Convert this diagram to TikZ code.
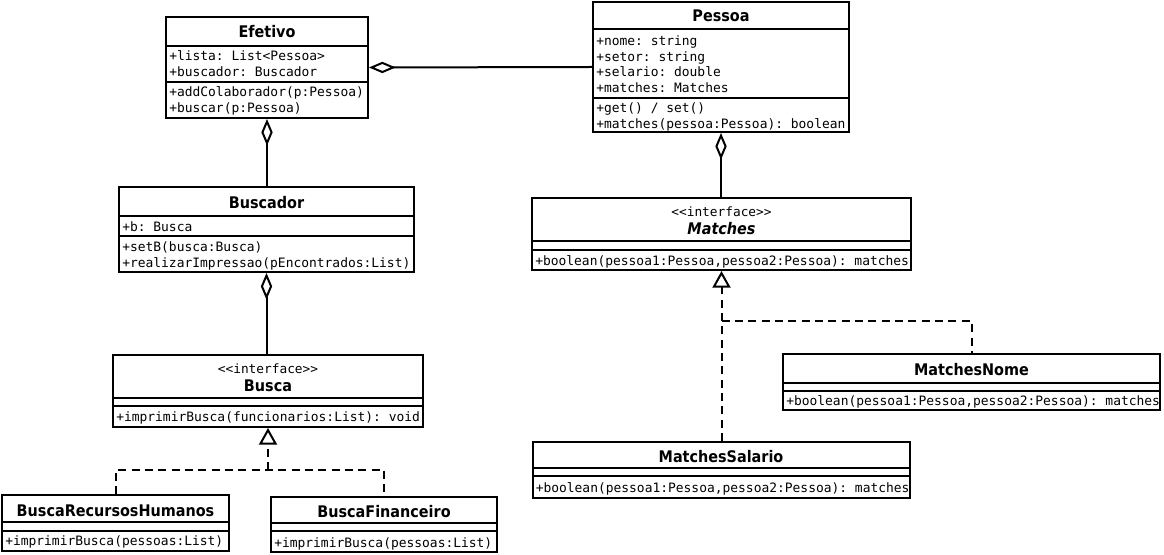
\documentclass[tikz,border=0pt]{standalone}
\usepackage{fontspec}
\setmonofont{DejaVu Sans Mono}
\newfontfamily\titlefont{DejaVu Sans Condensed}
\usetikzlibrary{arrows.meta}

\tikzset{
  classbox/.style={draw, line width=1.5pt, inner sep=0pt},
  classname/.style={inner sep=0pt, font=\titlefont\bfseries\fontsize{12}{14}\selectfont, text height=8.7pt, text depth=0pt},
  stereotype/.style={inner sep=0pt, font=\ttfamily\fontsize{9.6}{11}\selectfont, text height=6.5pt, text depth=0pt},
  member/.style={anchor=west, inner sep=0pt, font=\ttfamily\fontsize{9.7}{11.8}\selectfont, text height=7pt, text depth=1pt},
  aggregation/.style={line width=1.5pt, {Diamond[open,length=20pt,width=8.5pt]}-},
  realization/.style={line width=1.5pt, dash pattern=on 6pt off 4pt, -{Triangle[open,length=12.5pt,width=13.5pt]}},
  dashline/.style={line width=1.5pt, dash pattern=on 6pt off 4pt}
}

\begin{document}
\begin{tikzpicture}[x=0.75pt,y=-0.75pt]

\useasboundingbox (0,0) rectangle (1164,555);

% Efetivo
\node[classbox, minimum width=151.5pt, minimum height=75.75pt] (efetivo) at (267,67.5) {};
\draw[line width=1.5pt] (166,46)--(368,46);
\draw[line width=1.5pt] (166,82)--(368,82);
\node[classname] (efetivo-t) at (267,31.5) {Efetivo};
\node[member] (efetivo-a1) at (169,56.5) {+lista: List<Pessoa>};
\node[member] (efetivo-a2) at (169,73) {+buscador: Buscador};
\node[member] (efetivo-m1) at (169,93) {+addColaborador(p:Pessoa)};
\node[member] (efetivo-m2) at (169,109) {+buscar(p:Pessoa)};

% Pessoa
\node[classbox, minimum width=192pt, minimum height=97.5pt] (pessoa) at (721,67) {};
\draw[line width=1.5pt] (593,29.5)--(849,29.5);
\draw[line width=1.5pt] (593,98)--(849,98);
\node[classname] (pessoa-t) at (721,16) {Pessoa};
\node[member] (pessoa-a1) at (596,42) {+nome: string};
\node[member] (pessoa-a2) at (596,57.5) {+setor: string};
\node[member] (pessoa-a3) at (596,73) {+selario: double};
\node[member] (pessoa-a4) at (596,89) {+matches: Matches};
\node[member] (pessoa-m1) at (596,109) {+get() / set()};
\node[member] (pessoa-m2) at (596,125) {+matches(pessoa:Pessoa): boolean};

% Buscador
\node[classbox, minimum width=221.25pt, minimum height=63.75pt] (buscador) at (266.5,229.5) {};
\draw[line width=1.5pt] (119,216)--(414,216);
\draw[line width=1.5pt] (119,236)--(414,236);
\node[classname] (buscador-t) at (266.5,203) {Buscador};
\node[member] (buscador-a1) at (122,227.5) {+b: Busca};
\node[member] (buscador-m1) at (122,248) {+setB(busca:Busca)};
\node[member] (buscador-m2) at (122,263.5) {+realizarImpressao(pEncontrados:List)};

% Busca
\node[classbox, minimum width=232.5pt, minimum height=54pt] (busca) at (268,391) {};
\draw[line width=1.5pt] (113,398.5)--(423,398.5);
\draw[line width=1.5pt] (113,406.5)--(423,406.5);
\node[stereotype] (busca-s) at (268,369) {<<interface>>};
\node[classname] (busca-t) at (268,386) {Busca};
\node[member] (busca-m1) at (116,418) {+imprimirBusca(funcionarios:List): void};

% Matches
\node[classbox, minimum width=284.25pt, minimum height=54pt] (matches) at (721.5,234) {};
\draw[line width=1.5pt] (532,241.5)--(911,241.5);
\draw[line width=1.5pt] (532,250)--(911,250);
\node[stereotype] (matches-s) at (721.5,212.5) {<<interface>>};
\node[classname, font=\titlefont\bfseries\itshape\fontsize{12}{14}\selectfont] (matches-t) at (721.5,229) {Matches};
\node[member] (matches-m1) at (535,261.5) {+boolean(pessoa1:Pessoa,pessoa2:Pessoa): matches};

% BuscaRecursosHumanos
\node[classbox, minimum width=170.25pt, minimum height=42pt] (buscarh) at (115.5,523) {};
\draw[line width=1.5pt] (2,522.5)--(229,522.5);
\draw[line width=1.5pt] (2,531.5)--(229,531.5);
\node[classname] (buscarh-t) at (115.5,510.5) {BuscaRecursosHumanos};
\node[member] (buscarh-m1) at (5,542) {+imprimirBusca(pessoas:List)};

% BuscaFinanceiro
\node[classbox, minimum width=169.5pt, minimum height=41.25pt] (buscafin) at (384,524.5) {};
\draw[line width=1.5pt] (271,523.5)--(497,523.5);
\draw[line width=1.5pt] (271,531)--(497,531);
\node[classname] (buscafin-t) at (384,512) {BuscaFinanceiro};
\node[member] (buscafin-m1) at (274,544) {+imprimirBusca(pessoas:List)};

% MatchesNome
\node[classbox, minimum width=282.75pt, minimum height=42pt] (matchnome) at (971.5,382) {};
\draw[line width=1.5pt] (783,383.5)--(1160,383.5);
\draw[line width=1.5pt] (783,391.5)--(1160,391.5);
\node[classname] (matchnome-t) at (971.5,370) {MatchesNome};
\node[member] (matchnome-m1) at (786,402) {+boolean(pessoa1:Pessoa,pessoa2:Pessoa): matches};

% MatchesSalario
\node[classbox, minimum width=282.75pt, minimum height=42pt] (matchsal) at (721,470) {};
\draw[line width=1.5pt] (532.5,468.5)--(909.5,468.5);
\draw[line width=1.5pt] (532.5,476.5)--(909.5,476.5);
\node[classname] (matchsal-t) at (721,456.5) {MatchesSalario};
\node[member] (matchsal-m1) at (535.5,489) {+boolean(pessoa1:Pessoa,pessoa2:Pessoa): matches};

% connectors
\draw[aggregation] (efetivo.east)--(pessoa.west);
\draw[aggregation] (efetivo.south)--(efetivo.south |- buscador.north);
\draw[aggregation] (buscador.south)--(buscador.south |- busca.north);
\draw[aggregation] (pessoa.south)--(pessoa.south |- matches.north);

\path (busca.south) ++(0,42) coordinate (bjoin);
\draw[realization] (bjoin)--(busca.south);
\draw[dashline] (buscarh.north) |- (bjoin) -| (buscafin.north);

\path (matches.south) ++(0,50) coordinate (mjoin);
\draw[realization] (matches.south |- matchsal.north)--(matches.south);
\draw[dashline] (mjoin) -| (matchnome.north);

\end{tikzpicture}
\end{document}
